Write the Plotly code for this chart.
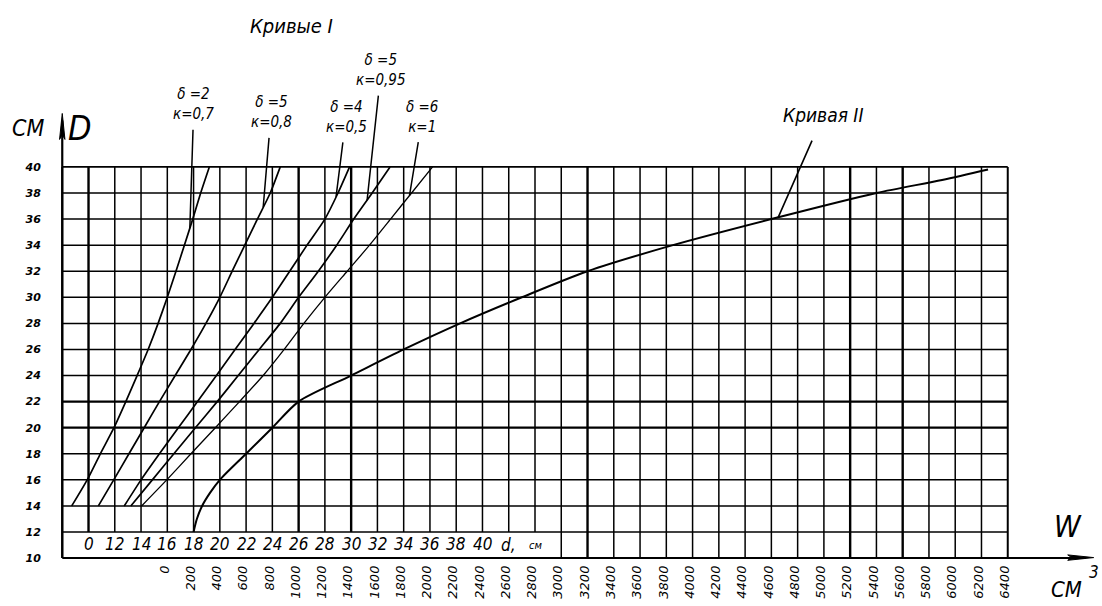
import numpy as np
import plotly.graph_objects as go

# ---------------- data ----------------
# Curves I : D (cm) as a function of d (cm)
D_I = [14, 16, 18, 20, 22, 24, 26, 28, 30, 32, 34, 36, 38, 40]
d_delta2_k07 = [8.72, 9.90, 10.90, 11.94, 12.84, 13.70, 14.54, 15.30, 16.00, 16.66, 17.30, 17.94, 18.54, 19.20]
d_delta5_k08 = [10.75, 11.92, 13.08, 14.24, 15.40, 16.60, 17.80, 18.94, 20.00, 20.94, 21.90, 22.86, 23.84, 24.60]
d_delta4_k05 = [12.72, 14.00, 15.40, 16.84, 18.30, 19.74, 21.16, 22.60, 24.00, 25.32, 26.64, 28.00, 29.00, 29.88]
d_delta5_k095 = [13.22, 14.86, 16.50, 18.14, 19.80, 21.40, 23.00, 24.60, 26.00, 27.50, 28.90, 30.20, 31.60, 32.96]
d_delta6_k1 = [14.04, 15.96, 17.80, 19.66, 21.50, 23.30, 24.90, 26.40, 28.00, 29.70, 31.40, 33.00, 34.60, 36.20]
curves_I = [d_delta2_k07, d_delta5_k08, d_delta4_k05, d_delta5_k095, d_delta6_k1]
labels_I = ["δ =2<br>к=0,7", "δ =5<br>к=0,8", "δ =4<br>к=0,5", "δ =5<br>к=0,95", "δ =6<br>к=1"]
leader_D_I = [35.3, 36.9, 37.7, 37.45, 37.8]

# Curve II : D (cm) as a function of W (cm^3)
D_II = [12, 13, 14, 15, 16, 18, 20, 22, 24, 26, 28, 30, 32, 34, 36, 38, 39, 39.8]
W_II = [200, 225, 265, 325, 400, 600, 800, 1000, 1400, 1800, 2230, 2700, 3200, 3850, 4600, 5400, 5900, 6250]
leader_D_II = 36.13

# axes / ticks
W_ticks = list(range(0, 6401, 200))
W_grid = list(range(-800, 6401, 200))
D_ticks = list(range(10, 41, 2))
d_ticks = list(range(10, 41, 2))
d_ticktext = ["0"] + [str(v) for v in range(12, 41, 2)]
W_thick = [-600, 1000, 1400, 3200, 5200, 5600]
D_thick = [20, 22]

# ---------------- geometry ----------------
FW, FH = 1102, 606
GX0, GX1, GY0, GY1 = 62.0, 1008.0, 166.5, 558.0      # grid rectangle (px)
W_MIN, W_MAX, D_MIN, D_MAX = -800, 6400, 10, 40
PADW, PADD = 40, 0.3
pxW = (GX1 - GX0) / (W_MAX - W_MIN)
pxD = (GY1 - GY0) / (D_MAX - D_MIN)
L = GX0 - PADW * pxW
R = FW - (GX1 + PADW * pxW)
T = GY0 - PADD * pxD
B = FH - (GY1 + PADD * pxD)
PW = FW - L - R
PH = FH - T - B


def X(px):
    return (px - L) / PW


def Y(py):
    return (FH - B - py) / PH


# d axis shares the plot width: d = 8 + (W + 800) / 100
d_lo = 8 + (W_MIN - PADW + 800) / 100
d_hi = 8 + (W_MAX + PADW + 800) / 100

NARROW = "Liberation Sans Narrow, DejaVu Sans Condensed, Arial Narrow, Liberation Sans, sans-serif"
WIDE = "DejaVu Sans, Liberation Sans, sans-serif"

fig = go.Figure()

# curves I
widths_I = [1.7, 1.7, 1.7, 1.7, 1.3]
for dv, w in zip(curves_I, widths_I):
    fig.add_trace(go.Scatter(x=dv, y=D_I, xaxis="x2", yaxis="y", mode="lines",
                             line=dict(color="black", width=w, shape="spline", smoothing=0.6),
                             hoverinfo="skip", showlegend=False))
# curve II
fig.add_trace(go.Scatter(x=W_II, y=D_II, xaxis="x", yaxis="y", mode="lines",
                         line=dict(color="black", width=2.0, shape="spline", smoothing=0.8),
                         hoverinfo="skip", showlegend=False))

shapes = []
# vertical grid
for wv in W_grid:
    y0 = D_MIN if (wv == W_MIN or wv >= 3000) else 12
    if wv in (W_MIN, W_MAX):
        lw = 2.0
    elif wv in W_thick:
        lw = 2.4
    else:
        lw = 1.5
    shapes.append(dict(type="line", xref="x", yref="y", x0=wv, x1=wv, y0=y0, y1=D_MAX,
                       line=dict(color="black", width=lw), layer="below"))
# horizontal grid
for dv in range(12, 41, 2):
    lw = 2.3 if dv in D_thick else (1.7 if dv == 40 else 1.5)
    shapes.append(dict(type="line", xref="x", yref="y", x0=W_MIN, x1=W_MAX, y0=dv, y1=dv,
                       line=dict(color="black", width=lw), layer="below"))
# W axis (bottom) with arrow
shapes.append(dict(type="line", xref="paper", yref="paper", x0=X(GX0), x1=X(1086), y0=Y(GY1), y1=Y(GY1),
                   line=dict(color="black", width=2.0)))
shapes.append(dict(type="path", xref="paper", yref="paper",
                   path=f"M{X(1094)},{Y(557.5)} L{X(1068)},{Y(554.8)} L{X(1072)},{Y(557.5)} L{X(1068)},{Y(560.2)} Z",
                   fillcolor="black", line=dict(color="black", width=1)))
# D axis (left) with arrow
shapes.append(dict(type="line", xref="paper", yref="paper", x0=X(GX0), x1=X(GX0), y0=Y(GY1), y1=Y(120),
                   line=dict(color="black", width=2.2)))
shapes.append(dict(type="path", xref="paper", yref="paper",
                   path=f"M{X(62)},{Y(113)} L{X(59.3)},{Y(139)} L{X(62)},{Y(134)} L{X(64.7)},{Y(139)} Z",
                   fillcolor="black", line=dict(color="black", width=1)))

annotations = []
# d-scale labels in the bottom strip
for dv, tt in zip(d_ticks, d_ticktext):
    annotations.append(dict(x=dv, y=11.05, xref="x2", yref="y", text=tt, showarrow=False,
                            font=dict(family=NARROW, size=17, color="black", style="italic")))
annotations.append(dict(x=42, y=11.0, xref="x2", yref="y", text="d,", showarrow=False,
                        font=dict(family=NARROW, size=17, color="black", style="italic")))
annotations.append(dict(x=44, y=11.0, xref="x2", yref="y", text="см", showarrow=False,
                        font=dict(family=NARROW, size=11, color="black", style="italic")))

# labels of curves I with leader lines
offsets_I = [(4, -124), (8, -95), (10, -80), (14, -130), (13, -79)]
for dv, lab, dlead, (ax, ay) in zip(curves_I, labels_I, leader_D_I, offsets_I):
    annotations.append(dict(x=float(np.interp(dlead, D_I, dv)), y=dlead, xref="x2", yref="y",
                            text=lab, showarrow=True, arrowhead=0, arrowwidth=1.5, arrowcolor="black",
                            ax=ax, ay=ay, startstandoff=5,
                            font=dict(family=NARROW, size=15, color="black", style="italic")))
# label of curve II
annotations.append(dict(x=float(np.interp(leader_D_II, D_II, W_II)), y=leader_D_II, xref="x", yref="y",
                        text="Кривая II", showarrow=True, arrowhead=0, arrowwidth=1.6, arrowcolor="black",
                        ax=45, ay=-102, startstandoff=14,
                        font=dict(family=NARROW, size=19, color="black", style="italic")))


def txt(px, py, s, size):
    return dict(x=X(px), y=Y(py), xref="paper", yref="paper", text=s, showarrow=False,
                xanchor="center", yanchor="middle",
                font=dict(family=NARROW, size=size, color="black", style="italic"))


# titles / units
annotations += [
    txt(291, 25, "Кривые I", 20),
    txt(28, 128, "СМ", 23),
    txt(80, 128, "D", 34),
    txt(1068, 526, "W", 30),
    txt(1067, 589, "СМ", 22),
    txt(1094, 572, "3", 17),
]

fig.update_layout(
    width=FW, height=FH,
    margin=dict(l=L, r=R, t=T, b=B, autoexpand=False),
    paper_bgcolor="white", plot_bgcolor="white",
    showlegend=False, hovermode=False,
    shapes=shapes, annotations=annotations,
    xaxis=dict(range=[W_MIN - PADW, W_MAX + PADW], tickmode="array", tickvals=W_ticks,
               ticktext=[str(v) for v in W_ticks], tickangle=-90, ticks="", ticklabelshift=-3,
               tickfont=dict(family=WIDE, size=13, color="black", style="italic"),
               showgrid=False, zeroline=False, showline=False, automargin=False, fixedrange=True),
    xaxis2=dict(range=[d_lo, d_hi], overlaying="x", anchor="y", visible=False, fixedrange=True),
    yaxis=dict(range=[D_MIN - PADD, D_MAX + PADD], tickmode="array", tickvals=D_ticks,
               ticktext=[str(v) for v in D_ticks], ticks="outside", ticklen=13,
               tickcolor="rgba(0,0,0,0)",
               tickfont=dict(family=WIDE, size=11, color="black", style="italic", weight="bold"),
               showgrid=False, zeroline=False, showline=False, automargin=False, fixedrange=True),
)

fig.write_html("out.html", config={"displayModeBar": False, "staticPlot": True},
               post_script="document.body.style.margin='0';document.body.style.overflow='hidden';")
